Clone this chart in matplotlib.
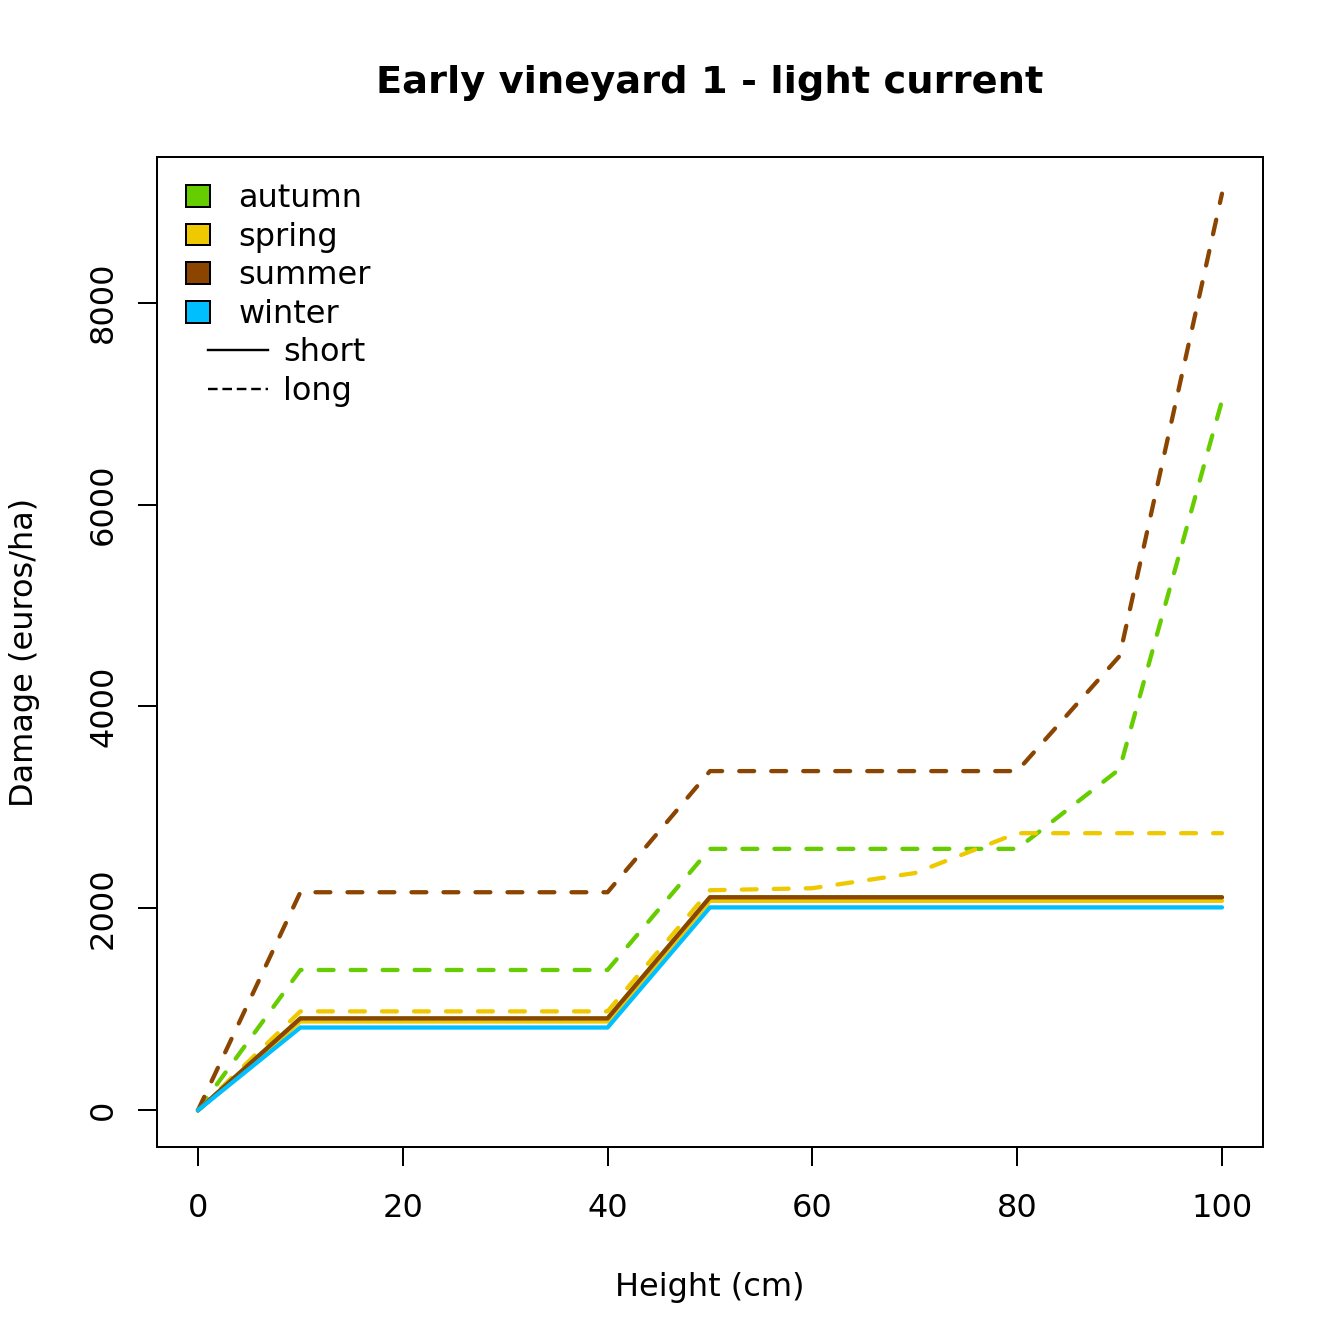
import matplotlib
matplotlib.use("Agg")
import matplotlib.pyplot as plt
from matplotlib.patches import Rectangle
from matplotlib.lines import Line2D

# Data
heights = [0, 10, 20, 30, 40, 50, 60, 70, 80, 90, 100]

seasons = ["autumn", "spring", "summer", "winter"]
colours = {"autumn": "#66CD00", "spring": "#EEC900",
           "summer": "#8B4500", "winter": "#00BFFF"}

autumn_long = [0, 1390, 1390, 1390, 1390, 2590, 2590, 2590, 2590, 3380, 7030]
spring_long = [0, 980, 980, 980, 980, 2180, 2200, 2350, 2745, 2745, 2745]
summer_long = [0, 2160, 2160, 2160, 2160, 3360, 3360, 3360, 3360, 4500, 9080]

autumn_short = [0, 910, 910, 910, 910, 2110, 2110, 2110, 2110, 2110, 2110]
spring_short = [0, 880, 880, 880, 880, 2075, 2075, 2075, 2075, 2075, 2075]
summer_short = [0, 910, 910, 910, 910, 2110, 2110, 2110, 2110, 2110, 2110]
winter_short = [0, 820, 820, 820, 820, 2010, 2010, 2010, 2010, 2010, 2010]

long_series = {"autumn": autumn_long, "spring": spring_long, "summer": summer_long}
short_series = {"autumn": autumn_short, "spring": spring_short,
                "summer": summer_short, "winter": winter_short}

plt.rcParams["font.family"] = ["DejaVu Sans"]

fig = plt.figure(figsize=(7, 7), dpi=192)
ax = fig.add_axes([0.1168, 0.1466, 0.8229, 0.7366])

# long (dashed) first, then short (solid)
for s in seasons:
    if s in long_series:
        ax.plot(heights, long_series[s], color=colours[s], lw=1.6,
                linestyle=(0, (3.5, 4)), dash_capstyle="round",
                dash_joinstyle="round")
for s in seasons:
    ax.plot(heights, short_series[s], color=colours[s], lw=1.6,
            solid_capstyle="round", solid_joinstyle="round")

ax.set_xlim(-4, 104)
ymax = max(summer_long)
ax.set_ylim(-0.04 * ymax, 1.04 * ymax)
ax.set_xticks([0, 20, 40, 60, 80, 100])
ax.set_yticks([0, 2000, 4000, 6000, 8000])
ax.tick_params(labelsize=12, length=7.2, width=0.75)
ax.tick_params(axis="x", pad=10)
ax.tick_params(axis="y", pad=7)
for lab in ax.get_yticklabels():
    lab.set_rotation(90)
    lab.set_va("center")
for sp in ["top", "right", "left", "bottom"]:
    ax.spines[sp].set_linewidth(0.75)

ax.set_xlabel("Height (cm)", fontsize=12, labelpad=18)
ax.set_ylabel("Damage (euros/ha)", fontsize=12, labelpad=18)
fig.text(0.528, 0.9385, "Early vineyard 1 - light current", fontsize=14.4,
         fontweight="bold", ha="center", va="center")

# legend drawn like R's legend()
row0 = 0.9606
step = 0.0389
text_shift = 0.0027
for i, s in enumerate(seasons):
    y = row0 - i * step
    ax.add_patch(Rectangle((0.0262, y - 0.0111), 0.0217, 0.0222,
                           transform=ax.transAxes, facecolor=colours[s],
                           edgecolor="black", lw=0.75))
    ax.text(0.0734, y - text_shift, s, transform=ax.transAxes, fontsize=12,
            va="center")
for j, (name, ls) in enumerate([("short", "-"), ("long", (0, (4, 2)))]):
    y = row0 - (4 + j) * step
    ax.add_line(Line2D([0.0461, 0.1004], [y, y], transform=ax.transAxes,
                       color="black", lw=0.9, linestyle=ls))
    ax.text(0.1139, y - text_shift, name, transform=ax.transAxes, fontsize=12,
            va="center")

fig.savefig("out.png", dpi=192)
